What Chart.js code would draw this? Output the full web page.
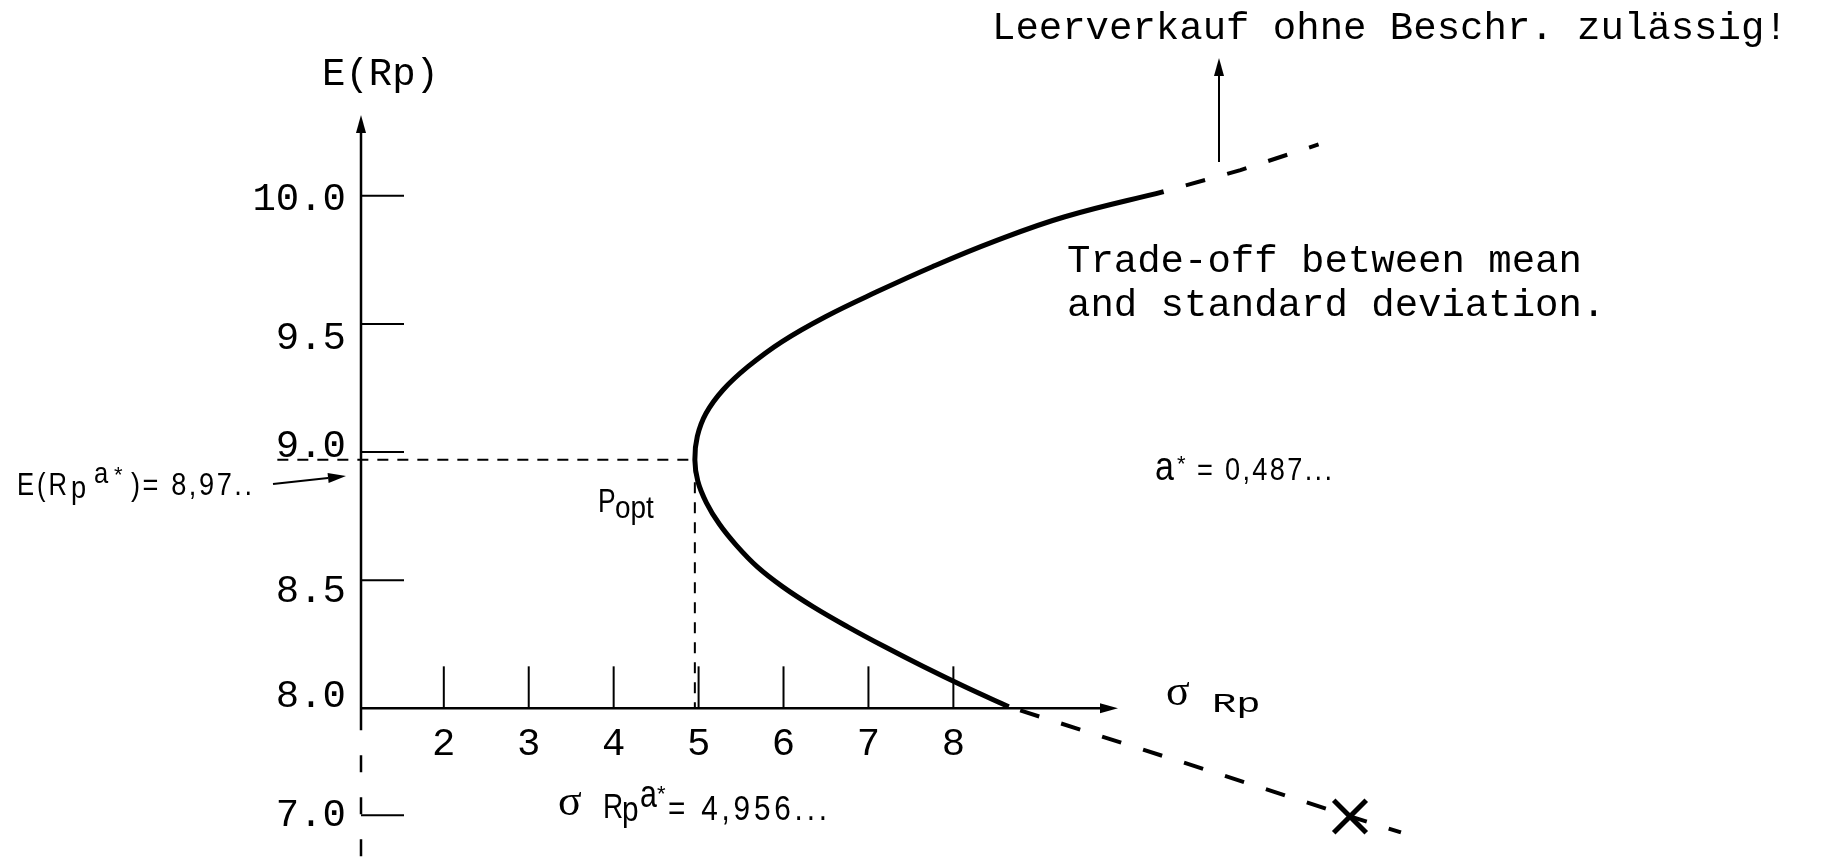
<!DOCTYPE html>
<html>
<head>
<meta charset="utf-8">
<title>Effizienzkurve</title>
<script src="https://cdn.jsdelivr.net/npm/chart.js@4.4.1/dist/chart.umd.min.js"></script>
<style>
  html, body { margin: 0; padding: 0; background: #fff; }
  #frontier { display: block; }
</style>
</head>
<body>
<canvas id="frontier" width="1821" height="859"></canvas>
<script>
const SIGMA_TICKS = [2, 3, 4, 5, 6, 7, 8];
const MEAN_TICKS = [7.0, 8.0, 8.5, 9.0, 9.5, 10.0];

// optimum portfolio
const OPT_SIGMA = 4.956;
const OPT_MEAN = 8.97;
const OPT_WEIGHT = 0.487;

// frontier, from where it meets the sigma axis, round P_opt, up to E = 10
const frontierSigma = [8.652, 8.137, 7.652, 7.193, 6.757, 6.351, 5.992, 5.692, 5.445, 5.244, 5.091, 4.991, 4.956,
  4.985, 5.088, 5.287, 5.581, 5.979, 6.494, 7.098, 7.752, 8.474, 9.313, 10.476];
const frontierMean = [8.006, 8.084, 8.162, 8.240, 8.318, 8.396, 8.474, 8.552, 8.636, 8.719, 8.803, 8.886, 8.970,
  9.061, 9.151, 9.242, 9.333, 9.430, 9.528, 9.625, 9.723, 9.821, 9.918, 10.016];

// dashed continuations (short selling)
const upperSigma = [10.476, 11.38, 12.30];
const upperMean = [10.016, 10.10, 10.20];
const lowerSigma = [8.652, 11.00, 12.67, 13.27];
const lowerMean = [8.006, 7.42, 6.99, 6.84];

// single asset marked with an X
const assetSigma = [12.67];
const assetMean = [6.99];

const MONO = '"Liberation Mono", "Courier New", monospace';
const NARROW = '"Liberation Sans", Arial, sans-serif';
const SERIF = '"Liberation Serif", "Times New Roman", serif';

// vertical nudge (px) of the mean axis labels, as they sit by hand next to their ticks
const LABEL_NUDGE = { 10: 4, 9.5: 15, 9: -5, 8.5: 11, 8: -12 };

const toPoints = (xs, ys) => xs.map((x, i) => ({ x, y: ys[i] }));
const comma = (v, n) => v.toFixed(n).replace('.', ',');

// linear scale with a compressed section below the break value
const LinearScale = Chart.LinearScale || Chart.registry.getScale('linear');
class BrokenLinearScale extends LinearScale {
  static id = 'brokenLinear';
  configure() {
    super.configure();
    this._brk = this.options.breakAt ?? 8;
    this._ratio = this.options.breakRatio ?? 0.42;
    this._vMin = this._virtual(this.min);
    this._vRange = this.max - this._vMin;
  }
  _virtual(v) {
    return v >= this._brk ? v : this._brk - (this._brk - v) * this._ratio;
  }
  getPixelForValue(value) {
    if (value === null || isNaN(value)) return NaN;
    return this.getPixelForDecimal((this._virtual(value) - this._vMin) / this._vRange);
  }
  getValueForPixel(pixel) {
    const v = this._vMin + this.getDecimalForPixel(pixel) * this._vRange;
    return v >= this._brk ? v : this._brk - (this._brk - v) / this._ratio;
  }
}
Chart.register(BrokenLinearScale);

function line(ctx, x1, y1, x2, y2) {
  ctx.beginPath();
  ctx.moveTo(x1, y1);
  ctx.lineTo(x2, y2);
  ctx.stroke();
}

function arrow(ctx, x1, y1, x2, y2, len = 18, half = 5) {
  const a = Math.atan2(y2 - y1, x2 - x1);
  const bx = x2 - Math.cos(a) * len, by = y2 - Math.sin(a) * len;
  line(ctx, x1, y1, bx, by);
  ctx.beginPath();
  ctx.moveTo(x2, y2);
  ctx.lineTo(bx - Math.sin(a) * half, by + Math.cos(a) * half);
  ctx.lineTo(bx + Math.sin(a) * half, by - Math.cos(a) * half);
  ctx.closePath();
  ctx.fill();
}

function putText(ctx, text, x, y, size, family, opt = {}) {
  ctx.save();
  ctx.font = `${size}px ${family}`;
  ctx.textAlign = 'left';
  ctx.textBaseline = 'alphabetic';
  ctx.fillStyle = '#000';
  ctx.translate(x, y);
  const sx = opt.sx || 1;
  ctx.scale(sx, 1);
  if (opt.width && text.length > 1 && 'letterSpacing' in ctx) {
    ctx.letterSpacing = '0px';
    const w0 = ctx.measureText(text).width;
    ctx.letterSpacing = ((opt.width / sx - w0) / (text.length - 1)).toFixed(2) + 'px';
  }
  ctx.fillText(text, 0, 0);
  ctx.restore();
}

// hand-drawn looking axes: arrows, inward ticks, dashed stub below the break
const sketchAxes = {
  id: 'sketchAxes',
  beforeDatasetsDraw(chart) {
    const { ctx, scales: { x, y } } = chart;
    const x0 = x.left;
    const y8 = y.getPixelForValue(8);
    ctx.save();
    ctx.strokeStyle = '#000';
    ctx.fillStyle = '#000';
    ctx.lineWidth = 2.5;

    arrow(ctx, x0, y8 + 22, x0, y.top);
    ctx.setLineDash([17, 25]);
    ctx.lineDashOffset = 17;
    line(ctx, x0, y8 + 22, x0, y.bottom);
    ctx.setLineDash([]);

    arrow(ctx, x0, y8, 1118, y8);

    ctx.lineWidth = 2;
    SIGMA_TICKS.forEach(v => {
      const px = x.getPixelForValue(v);
      line(ctx, px, y8, px, y8 - 42);
    });
    MEAN_TICKS.filter(v => v !== 8).forEach(v => {
      const py = y.getPixelForValue(v);
      line(ctx, x0, py, x0 + 43, py);
    });
    ctx.restore();
  }
};

const sketchNotes = {
  id: 'sketchNotes',
  afterDraw(chart) {
    const { ctx } = chart;
    ctx.save();
    ctx.strokeStyle = '#000';
    ctx.fillStyle = '#000';
    ctx.lineWidth = 2;

    putText(ctx, 'E(Rp)', 322, 85, 39, MONO);
    putText(ctx, 'Leerverkauf ohne Beschr. zulässig!', 992, 39, 39, MONO);
    arrow(ctx, 1219, 162, 1219, 58);
    putText(ctx, 'Trade-off between mean', 1067, 272, 39, MONO);
    putText(ctx, 'and standard deviation.', 1067, 316, 39, MONO);

    // sigma axis title
    putText(ctx, 'σ', 1166, 705, 44, SERIF);
    putText(ctx, 'Rp', 1212, 712, 28, MONO, { sx: 1.45 });

    // E(Rp a*) = 8,97..
    putText(ctx, 'E(R', 17, 495, 32, NARROW, { sx: 0.8, width: 50 });
    putText(ctx, 'p', 71, 498, 32, NARROW, { sx: 0.85 });
    putText(ctx, 'a', 94, 483, 30, NARROW, { sx: 0.85 });
    putText(ctx, '*', 114, 482, 22, NARROW);
    putText(ctx, ')= ' + comma(OPT_MEAN, 2) + '..', 131, 495, 32, NARROW, { sx: 0.85, width: 121 });
    arrow(ctx, 273, 484, 346, 476);

    // P_opt
    putText(ctx, 'P', 598, 512, 33, NARROW, { sx: 0.8 });
    putText(ctx, 'opt', 615, 518, 31, NARROW, { sx: 0.9 });

    // a* = 0,487...
    putText(ctx, 'a', 1155, 480, 40, NARROW, { sx: 0.85 });
    putText(ctx, '*', 1177, 471, 22, NARROW);
    putText(ctx, '= ' + comma(OPT_WEIGHT, 3) + '...', 1197, 480, 32, NARROW, { sx: 0.85, width: 135 });

    // sigma Rp a* = 4,956...
    putText(ctx, 'σ', 558, 815, 44, SERIF);
    putText(ctx, 'R', 603, 818, 35, NARROW, { sx: 0.8 });
    putText(ctx, 'p', 622, 821, 35, NARROW, { sx: 0.85 });
    putText(ctx, 'a', 640, 807, 38, NARROW, { sx: 0.8 });
    putText(ctx, '*', 657, 801, 22, NARROW);
    putText(ctx, '= ' + comma(OPT_SIGMA, 3) + '...', 668, 820, 35, NARROW, { sx: 0.85, width: 159 });

    ctx.restore();
  }
};

Chart.defaults.color = '#000';
Chart.defaults.font.family = MONO;

const tickFont = { family: MONO, size: 39 };

new Chart(document.getElementById('frontier'), {
  type: 'scatter',
  data: {
    datasets: [
      {
        label: 'Effizienzkurve',
        data: toPoints(frontierSigma, frontierMean),
        showLine: true,
        borderColor: '#000',
        borderWidth: 5,
        borderJoinStyle: 'round',
        pointRadius: 0,
        tension: 0.4,
        clip: false,
      },
      {
        label: 'Leerverkauf oben',
        data: toPoints(upperSigma, upperMean),
        showLine: true,
        borderColor: '#000',
        borderWidth: 4,
        borderDash: [20, 23],
        borderDashOffset: 20,
        pointRadius: 0,
        tension: 0,
        clip: false,
      },
      {
        label: 'Leerverkauf unten',
        data: toPoints(lowerSigma, lowerMean),
        showLine: true,
        borderColor: '#000',
        borderWidth: 4,
        borderDash: [20, 23],
        borderDashOffset: 31,
        pointRadius: 0,
        tension: 0,
        clip: false,
      },
      {
        label: 'P_opt',
        data: [
          { x: 0.04, y: OPT_MEAN },
          { x: OPT_SIGMA, y: OPT_MEAN },
          { x: OPT_SIGMA, y: 8 },
        ],
        showLine: true,
        borderColor: '#000',
        borderWidth: 2,
        borderDash: [11, 9],
        pointRadius: 0,
        tension: 0,
        clip: false,
      },
      {
        label: 'Wertpapier',
        data: toPoints(assetSigma, assetMean),
        showLine: false,
        pointStyle: 'crossRot',
        pointRadius: 23,
        pointBorderWidth: 5,
        pointBorderColor: '#000',
        clip: false,
      },
    ],
  },
  options: {
    responsive: false,
    animation: false,
    events: [],
    layout: { autoPadding: false, padding: { top: 115, left: 0, right: 0, bottom: 0 } },
    plugins: {
      legend: { display: false },
      tooltip: { enabled: false },
    },
    scales: {
      x: {
        type: 'linear',
        min: 1.025,
        max: 18.216,
        bounds: 'data',
        position: { y: 8 },
        grid: { display: false, drawTicks: false },
        border: { display: false },
        ticks: {
          autoSkip: false,
          maxRotation: 0,
          padding: 13,
          font: tickFont,
          color: '#000',
          callback: v => String(v),
        },
        afterBuildTicks: scale => {
          scale.ticks = SIGMA_TICKS.map(v => ({ value: v }));
        },
        afterFit: scale => {
          scale.paddingLeft = 0;
          scale.paddingRight = 0;
        },
      },
      y: {
        type: 'brokenLinear',
        min: 6.592,
        max: 10.315,
        breakAt: 8,
        breakRatio: 0.4175,
        bounds: 'data',
        grid: { display: false, drawTicks: false },
        border: { display: false },
        ticks: {
          autoSkip: false,
          padding: 15,
          color: '#000',
          // an empty line above or below moves a label off its tick by half the line height
          font: c => {
            const n = c.tick ? Math.abs(LABEL_NUDGE[c.tick.value] || 0) : 0;
            return { family: MONO, size: 39, lineHeight: n ? (2 * n) + 'px' : 1.2 };
          },
          callback: v => {
            const n = LABEL_NUDGE[v] || 0;
            const s = v.toFixed(1);
            return n < 0 ? [s, ''] : n > 0 ? ['', s] : s;
          },
        },
        afterBuildTicks: scale => {
          scale.ticks = MEAN_TICKS.map(v => ({ value: v }));
        },
        afterFit: scale => {
          scale.width = 361;
          scale.paddingTop = 0;
          scale.paddingBottom = 0;
        },
      },
    },
  },
  plugins: [sketchAxes, sketchNotes],
});
</script>
</body>
</html>
